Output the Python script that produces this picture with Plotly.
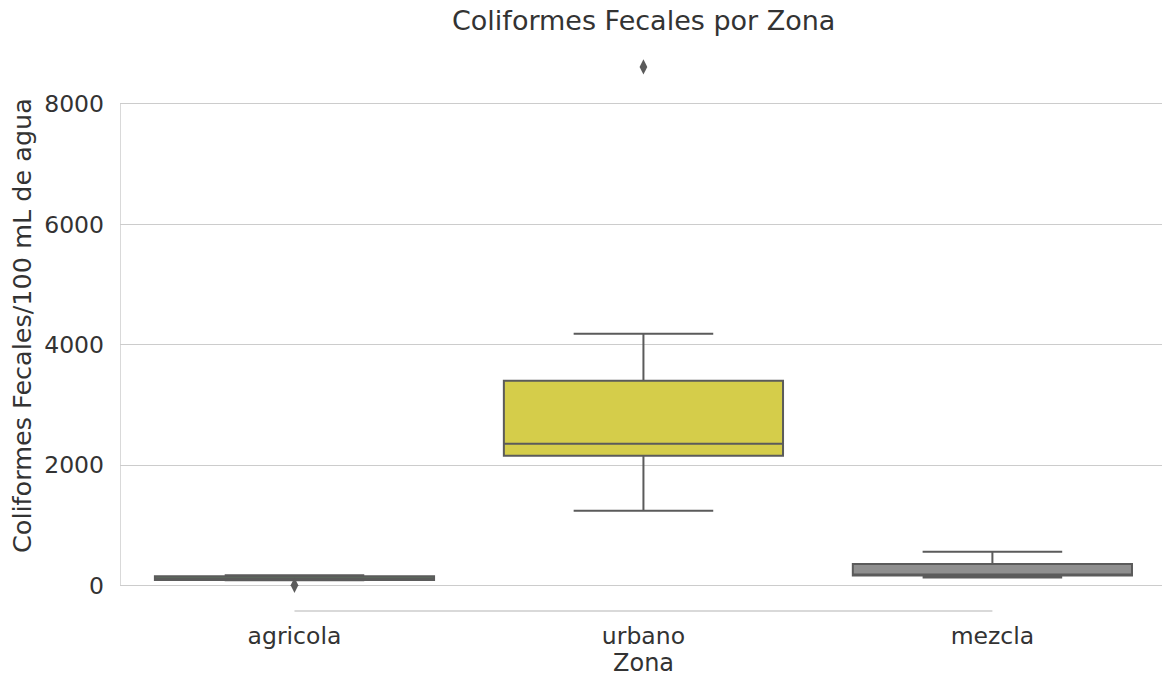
import plotly.graph_objects as go

zonas = ["agricola", "urbano", "mezcla"]
q1_vals = [95, 2158, 171]
median_vals = [120, 2357, 178]
q3_vals = [155, 3402, 360]
lower_vals = [90, 1245, 138]
upper_vals = [174, 4183, 564]
fill_colors = ["#5f8f5f", "#d5cd4a", "#8f8f8f"]
outlier_zona = ["agricola", "urbano"]
outlier_vals = [8, 8614]
y_ticks = [0, 2000, 4000, 6000, 8000]

LINE = "#5b5b5b"
TXT = "#333333"
GRID = "#cccccc"
FONT = "DejaVu Sans"

fig = go.Figure()
for i, z in enumerate(zonas):
    fig.add_trace(go.Box(
        x=[z], q1=[q1_vals[i]], median=[median_vals[i]], q3=[q3_vals[i]],
        lowerfence=[lower_vals[i]], upperfence=[upper_vals[i]],
        fillcolor=fill_colors[i], line=dict(color=LINE, width=2),
        width=0.8, whiskerwidth=0.5, boxpoints=False, showlegend=False,
        hoverinfo="skip",
    ))

fig.add_trace(go.Scatter(
    x=outlier_zona, y=outlier_vals, mode="markers",
    marker=dict(symbol="diamond-tall", size=11, color=LINE, line=dict(width=0)),
    showlegend=False, hoverinfo="skip",
))

# trimmed spines
fig.add_shape(type="line", xref="x", yref="y", x0=-0.5, x1=-0.5,
              y0=y_ticks[0], y1=y_ticks[-1], line=dict(color=GRID, width=1.5))
fig.add_shape(type="line", xref="x", yref="paper", x0=0, x1=len(zonas) - 1,
              y0=0, y1=0, line=dict(color=GRID, width=1.5))

W, H = 1162, 679
ml, mr, mt, mb = 120, 0, 41, 68
pw, ph = W - ml - mr, H - mt - mb

fig.update_layout(
    width=W, height=H,
    margin=dict(l=ml, r=mr, t=mt, b=mb),
    paper_bgcolor="white", plot_bgcolor="white",
    font=dict(family=FONT, color=TXT, size=23),
    boxmode="overlay",
    xaxis=dict(type="category", categoryorder="array", categoryarray=zonas,
               range=[-0.5, 2.486], showgrid=False, zeroline=False,
               showline=False, ticks="", ticklabelstandoff=8,
               tickfont=dict(size=23.5, color=TXT, family=FONT)),
    yaxis=dict(range=[-420, 9044], tickvals=y_ticks,
               ticktext=[str(v) for v in y_ticks],
               showgrid=True, gridcolor=GRID, gridwidth=1.4, zeroline=False,
               showline=False, ticks="", ticklabelstandoff=15,
               tickfont=dict(size=23.5, color=TXT, family=FONT)),
    annotations=[
        dict(text="Coliformes Fecales por Zona", xref="x", x=1, yref="paper",
             y=(H - mb - 20) / ph, yanchor="middle", xanchor="center",
             showarrow=False, font=dict(size=27, color=TXT, family=FONT)),
        dict(text="Zona", xref="x", x=1, yref="paper",
             y=(H - mb - 663) / ph, yanchor="middle", xanchor="center",
             showarrow=False, font=dict(size=24, color=TXT, family=FONT)),
        dict(text="Coliformes Fecales/100 mL de agua", xref="paper",
             x=(22 - ml) / pw, yref="paper", y=0.5, textangle=-90,
             xanchor="center", yanchor="middle", showarrow=False,
             font=dict(size=25.5, color=TXT, family=FONT)),
    ],
)

fig.write_html("out.html", config={"displayModeBar": False},
               post_script="document.body.style.margin='0';document.body.style.overflow='hidden';")
